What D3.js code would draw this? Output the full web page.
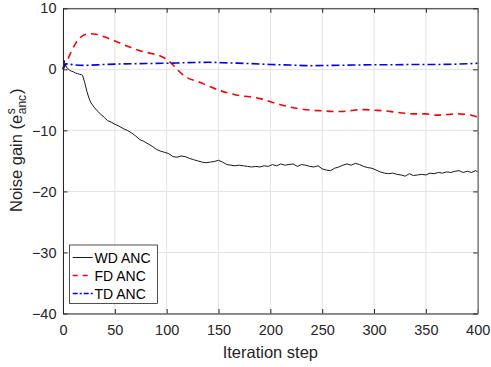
<!DOCTYPE html>
<html><head><meta charset="utf-8">
<script src="https://cdn.jsdelivr.net/npm/d3@7"></script>
<style>body{margin:0;background:#fff}svg{display:block}text{font-family:"Liberation Sans",Arial,sans-serif}</style>
</head><body>
<script>
const xTicks = [0,50,100,150,200,250,300,350,400];
const yTicks = [10,0,-10,-20,-30,-40];
const seriesNames = ["WD ANC","FD ANC","TD ANC"];
const wdSteps = [0,1,2,4,6,8,10,12,14,16,18,19,21,23,25,27,30,33,36,40,43,47,50,54,58,62,66,70,74,78,82,86,90,94,98,102,106,110,114,118,122,126,130,134,138,142,146,150,154,158,162,166,170,174,178,182,186,190,194,198,202,206,210,214,218,222,226,230,234,238,242,246,250,254,258,262,266,270,274,278,282,286,290,294,298,302,306,310,314,318,322,326,330,334,338,342,346,350,354,358,362,366,370,374,378,382,386,390,394,398,400];
const wdGain = [0,1.5,0.8,0.2,-0.1,-0.3,-0.4,-0.6,-0.7,-0.8,-0.9,-1.0,-2.2,-3.6,-4.7,-5.5,-6.2,-6.8,-7.3,-7.9,-8.4,-8.7,-9.0,-9.3,-9.7,-10.0,-10.4,-10.9,-11.5,-11.8,-12.2,-12.6,-13.1,-13.4,-13.6,-13.8,-14.3,-14.4,-14.2,-14.3,-14.6,-14.8,-15.0,-15.2,-15.3,-15.2,-15.1,-14.9,-15.2,-15.6,-15.7,-15.8,-15.7,-15.8,-15.9,-16.0,-15.9,-16.0,-15.8,-15.9,-15.6,-15.8,-15.5,-15.7,-15.6,-15.5,-15.9,-15.6,-15.7,-15.9,-16.0,-15.8,-16.3,-16.5,-16.6,-16.2,-16.0,-15.7,-15.5,-15.7,-15.4,-15.6,-15.9,-16.1,-16.2,-16.5,-16.8,-17.0,-17.1,-17.0,-17.2,-17.3,-17.5,-17.1,-17.4,-17.3,-17.2,-17.3,-17.0,-17.1,-16.9,-17.0,-16.8,-16.9,-16.7,-16.6,-16.9,-16.7,-16.9,-16.6,-16.8];
const fdSteps = [0,2,5,8,12,16,20,25,30,37,45,55,65,75,85,95,100,105,110,115,120,130,140,150,160,170,180,190,200,210,220,230,240,250,260,270,280,290,300,310,320,330,340,350,360,370,380,390,400];
const fdGain = [0,0.6,1.8,2.9,4.2,5.1,5.6,5.85,5.8,5.5,5.0,4.3,3.6,3.0,2.6,2.1,1.6,0.9,0.0,-0.8,-1.4,-2.0,-2.7,-3.4,-3.9,-4.3,-4.5,-4.8,-5.3,-5.8,-6.2,-6.5,-6.7,-6.8,-6.9,-6.9,-6.7,-6.6,-6.7,-6.8,-7.0,-7.2,-7.3,-7.3,-7.5,-7.4,-7.3,-7.4,-7.8];
const tdSteps = [0,2,4,10,20,40,60,80,100,120,140,160,180,200,220,240,260,280,300,320,340,360,380,400];
const tdGain = [0,0.8,0.9,0.75,0.65,0.8,0.9,0.95,1.0,1.1,1.15,1.05,0.95,0.8,0.7,0.6,0.65,0.7,0.75,0.75,0.8,0.8,0.85,1.0];

const W=491,H=367, L=63, R=477.7, T=8.3, B=313.5;
const axisCol="#262626", gridCol="#e3e3e3";
const svg=d3.select("body").append("svg").attr("width",W).attr("height",H);
const x=d3.scaleLinear().domain([0,400]).range([L,R]);
const y=d3.scaleLinear().domain([-40,10]).range([B,T]);

// grid
const g=svg.append("g");
g.selectAll(".gx").data(xTicks).join("line").attr("x1",d=>x(d)).attr("x2",d=>x(d)).attr("y1",T).attr("y2",B).attr("stroke",gridCol).attr("stroke-width",1);
g.selectAll(".gy").data(yTicks).join("line").attr("y1",d=>y(d)).attr("y2",d=>y(d)).attr("x1",L).attr("x2",R).attr("stroke",gridCol).attr("stroke-width",1);

// lines
const mk=(xs,ys)=>xs.map((v,i)=>[v,ys[i]]);
const line=d3.line().x(d=>x(d[0])).y(d=>y(d[1]));
const plot=svg.append("g");
plot.append("path").datum(mk(fdSteps,fdGain)).attr("d",line.curve(d3.curveMonotoneX)).attr("fill","none").attr("stroke","#ff0000").attr("stroke-width",1.6).attr("stroke-dasharray","7,5");
plot.append("path").datum(mk(tdSteps,tdGain)).attr("d",line.curve(d3.curveMonotoneX)).attr("fill","none").attr("stroke","#0000ff").attr("stroke-width",1.6).attr("stroke-dasharray","8,3,2,3");
plot.append("path").datum(mk(wdSteps,wdGain)).attr("d",line.curve(d3.curveLinear)).attr("fill","none").attr("stroke","#000").attr("stroke-width",0.9);

// axes
const ax=svg.append("g").attr("transform",`translate(0,${B})`).call(d3.axisBottom(x).tickValues(xTicks).tickSizeInner(-4.5).tickSizeOuter(0).tickPadding(11));
const ay=svg.append("g").attr("transform",`translate(${L},0)`).call(d3.axisLeft(y).tickValues(yTicks).tickSizeInner(-4.5).tickSizeOuter(0).tickPadding(8));
const axt=svg.append("g").attr("transform",`translate(0,${T})`).call(d3.axisTop(x).tickValues(xTicks).tickSizeInner(-4.5).tickSizeOuter(0).tickFormat(""));
const ayr=svg.append("g").attr("transform",`translate(${R},0)`).call(d3.axisRight(y).tickValues(yTicks).tickSizeInner(-4.5).tickSizeOuter(0).tickFormat(""));
[ax,ay,axt,ayr].forEach(a=>{a.selectAll("path,line").attr("stroke",axisCol).attr("stroke-width",1);a.selectAll("text").attr("fill",axisCol).style("font-size","14.5px").style("font-family","Liberation Sans, Arial, sans-serif");});
ayr.select("path").attr("stroke","#808080").attr("stroke-width",1.5);
ay.selectAll("text").attr("x",-6.5);

// axis labels
svg.append("text").attr("x",(L+R)/2).attr("y",358).attr("text-anchor","middle").attr("fill",axisCol).style("font-size","16.5px").text("Iteration step");
const yl=svg.append("g").attr("transform","translate(22,212) rotate(-90)");
const t1=yl.append("text").attr("x",0).attr("y",0).attr("fill",axisCol).style("font-size","16.5px").text("Noise gain (e");
const w1=t1.node().getComputedTextLength();
const sup=yl.append("text").attr("x",w1+0.5).attr("y",-7).attr("fill",axisCol).style("font-size","12px").text("s");
const sub=yl.append("text").attr("x",w1+0.5).attr("y",4).attr("fill",axisCol).style("font-size","12px").text("anc");
const w2=Math.max(sup.node().getComputedTextLength(),sub.node().getComputedTextLength());
yl.append("text").attr("x",w1+w2+1.5).attr("y",0).attr("fill",axisCol).style("font-size","16.5px").text(")");

// legend
const lg=svg.append("g");
lg.append("rect").attr("x",69.5).attr("y",245).attr("width",88).attr("height",58.5).attr("fill","#fff").attr("stroke",axisCol).attr("stroke-width",0.8);
const styles=[{c:"#000",w:0.9,d:null},{c:"#ff0000",w:1.6,d:"5,5"},{c:"#0000ff",w:1.6,d:"5,2,2,2"}];
const rows=[257.5,275.5,293.5];
seriesNames.forEach((n,i)=>{
  lg.append("line").attr("x1",72.7).attr("x2",92.7).attr("y1",rows[i]).attr("y2",rows[i]).attr("stroke",styles[i].c).attr("stroke-width",styles[i].w).attr("stroke-dasharray",styles[i].d);
  lg.append("text").attr("x",94.5).attr("y",rows[i]+5).attr("fill","#000").style("font-size","14px").text(n);
});
</script>
</body></html>
